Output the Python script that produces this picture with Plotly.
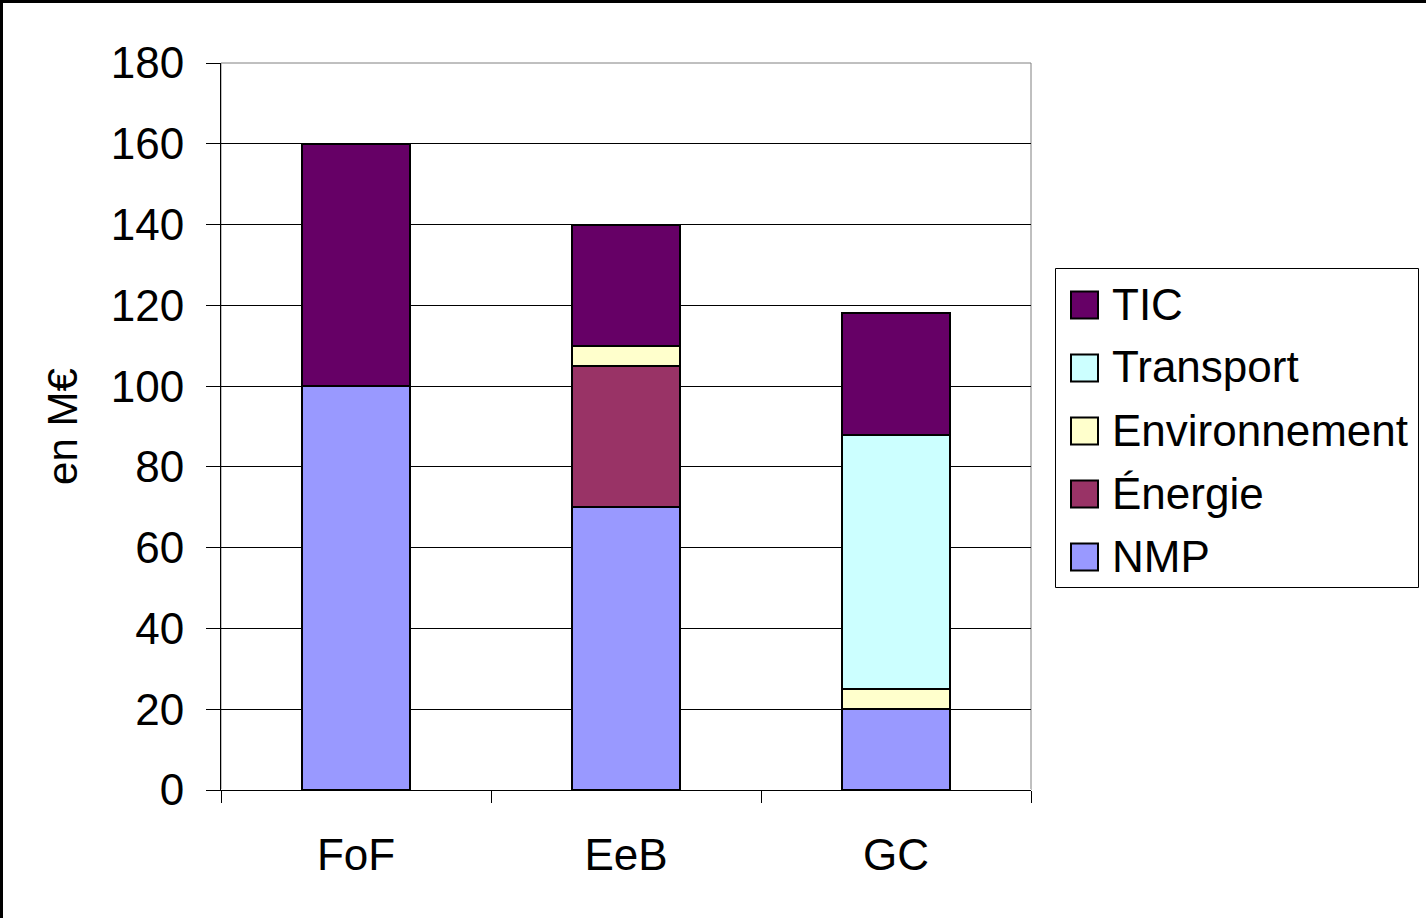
import plotly.graph_objects as go

categories = ["FoF", "EeB", "GC"]
series_names = ["NMP", "Énergie", "Environnement", "Transport", "TIC"]
nmp = [100, 70, 20]
energie = [None, 35, None]
environnement = [None, 5, 5]
transport = [None, None, 63]
tic = [60, 30, 30]
colors = ["#9999FF", "#993366", "#FFFFCC", "#CCFFFF", "#660066"]
y_ticks = [0, 20, 40, 60, 80, 100, 120, 140, 160, 180]

W, H = 1426, 918
L, R, T, B = 221, 395, 63, 128
pw, ph = W - L - R, H - T - B


def px_x(p):
    return (p - L) / pw


def px_y(p):
    return (H - B - p) / ph


fig = go.Figure()
for name, vals, col in zip(series_names, [nmp, energie, environnement, transport, tic], colors):
    fig.add_trace(go.Bar(
        x=categories, y=vals, name=name, showlegend=False,
        marker=dict(color=col, line=dict(color="black", width=2)),
    ))

font = "Liberation Sans, Arial, sans-serif"
shapes = [
    dict(type="rect", xref="paper", yref="paper", x0=0, x1=1, y0=0, y1=1,
         line=dict(color="#808080", width=1), layer="below"),
    dict(type="rect", xref="paper", yref="paper",
         x0=px_x(1.5), x1=px_x(W + 20), y0=px_y(H + 20), y1=px_y(1.5),
         line=dict(color="black", width=3)),
    # legend box
    dict(type="rect", xref="paper", yref="paper",
         x0=px_x(1055.5), x1=px_x(1418.5), y0=px_y(587.5), y1=px_y(268.5),
         line=dict(color="black", width=1), fillcolor="white"),
]
annotations = []
legend_order = list(zip(series_names, colors))[::-1]
for i, (name, col) in enumerate(legend_order):
    cy = 305 + 63 * i
    shapes.append(dict(type="rect", xref="paper", yref="paper",
                       x0=px_x(1071), x1=px_x(1098), y0=px_y(cy + 13.5), y1=px_y(cy - 13.5),
                       line=dict(color="black", width=2), fillcolor=col))
    annotations.append(dict(xref="paper", yref="paper", x=px_x(1110), y=px_y(cy - 1),
                            xanchor="left", yanchor="middle", showarrow=False,
                            text=name, font=dict(size=44, family=font, color="black")))

fig.update_layout(
    width=W, height=H,
    barmode="stack", bargap=0.6,
    margin=dict(l=L, r=R, t=T, b=B, autoexpand=False),
    paper_bgcolor="white", plot_bgcolor="white",
    font=dict(family=font, size=44, color="black"),
    showlegend=False,
    xaxis=dict(
        tickson="boundaries", ticks="outside", ticklen=12, tickcolor="black",
        showline=True, linecolor="black", linewidth=1, mirror=False,
        tickfont=dict(size=44), showgrid=False, ticklabelstandoff=26,
    ),
    yaxis=dict(
        range=[0, 180], tickvals=y_ticks, ticks="outside", ticklen=14, tickcolor="black",
        showline=True, linecolor="black", linewidth=1,
        showgrid=True, gridcolor="black", gridwidth=1,
        tickfont=dict(size=44), ticklabelstandoff=13,
        title=dict(text="en M€", font=dict(size=42), standoff=20),
    ),
    shapes=shapes,
    annotations=annotations,
)

fig.write_html("out.html", config={"displayModeBar": False},
               post_script="document.body.style.margin='0px';")
